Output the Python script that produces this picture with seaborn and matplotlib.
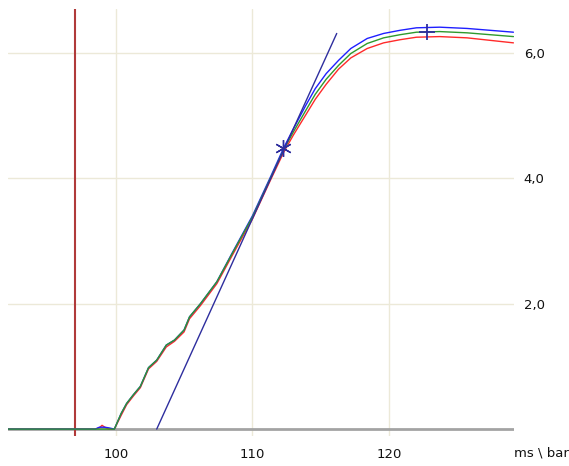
import numpy as np
import pandas as pd
import matplotlib
matplotlib.use("Agg")
import matplotlib.pyplot as plt
import seaborn as sns

# --- data (ms vs bar) ---
time_ms = [92.1, 98.5, 98.8, 99.0, 99.2, 99.5, 99.9, 100.4, 100.8, 101.3, 101.8,
           102.4, 103.0, 103.7, 104.3, 105.0, 105.4, 106.2, 107.4, 108.5, 110.0,
           111.3, 112.3, 113.0, 113.9, 114.6, 115.4, 116.3, 117.2, 118.4, 119.6,
           120.8, 122.0, 123.7, 125.7, 127.4, 129.1]

pressure_blue = [0.0, 0.0, 0.03, 0.03, 0.03, 0.02, 0.0, 0.25, 0.41, 0.55, 0.68,
                 0.98, 1.10, 1.34, 1.42, 1.58, 1.79, 2.00, 2.35, 2.80, 3.40,
                 4.01, 4.49, 4.79, 5.16, 5.43, 5.67, 5.88, 6.07, 6.23, 6.31,
                 6.36, 6.40, 6.41, 6.39, 6.36, 6.33]

pressure_green = [0.0, 0.0, 0.0, 0.0, 0.0, 0.0, 0.0, 0.25, 0.41, 0.55, 0.68,
                  0.98, 1.10, 1.34, 1.42, 1.58, 1.79, 2.00, 2.35, 2.79, 3.38,
                  3.99, 4.46, 4.74, 5.08, 5.34, 5.58, 5.80, 5.99, 6.15, 6.24,
                  6.29, 6.33, 6.34, 6.32, 6.29, 6.26]

pressure_red = [0.0, 0.0, 0.02, 0.06, 0.03, 0.0, 0.0, 0.22, 0.39, 0.53, 0.66,
                0.96, 1.08, 1.31, 1.40, 1.55, 1.76, 1.97, 2.32, 2.76, 3.35,
                3.96, 4.42, 4.69, 5.01, 5.26, 5.50, 5.74, 5.92, 6.07, 6.16,
                6.21, 6.25, 6.26, 6.24, 6.20, 6.16]

tangent_ms = [103.0, 116.17]
tangent_bar = [0.0, 6.31]

star_point = (112.26, 4.48)
plus_point = (122.75, 6.34)
trigger_ms = 97.0

x_ticks = [100, 110, 120]
y_ticks = [2, 4, 6]
y_tick_labels = ["2,0", "4,0", "6,0"]

series_names = ["red", "blue", "green"]
series_colors = {"red": "#ff2a2a", "blue": "#1f1fff", "green": "#2e9a2e"}

df = pd.DataFrame({
    "ms": time_ms * 3,
    "bar": pressure_red + pressure_blue + pressure_green,
    "channel": ["red"] * len(time_ms) + ["blue"] * len(time_ms) + ["green"] * len(time_ms),
})

sns.set_style("white")
plt.rcParams["font.family"] = ["DejaVu Sans"]

fig = plt.figure(figsize=(5.69, 4.66), dpi=100)
ax = fig.add_axes([8 / 569, 30 / 466, (514 - 8) / 569, (436 - 9) / 466])

ax.set_xlim(92.12, 129.14)
ax.set_ylim(-0.11, 6.70)

ax.grid(True, color="#ece9d8", lw=1.0, zorder=0)
ax.set_axisbelow(True)

ax.axhline(0, color="#a3a3a3", lw=2.0, zorder=1)
ax.axvline(trigger_ms, color="#b03a3a", lw=1.5, zorder=2)

sns.lineplot(data=df, x="ms", y="bar", hue="channel", hue_order=series_names,
             palette=series_colors, lw=1.0, legend=False, estimator=None,
             sort=False, ax=ax, zorder=3)

sns.lineplot(x=tangent_ms, y=tangent_bar, color="#2e2e9e", lw=1.0, ax=ax, zorder=4)

ax.plot([star_point[0]], [star_point[1]], marker=(6, 2, 0), ms=12,
        mec="#2e2e9e", mew=1.0, ls="none", zorder=5)
ax.plot([plus_point[0]], [plus_point[1]], marker="+", ms=11,
        mec="#2e2e9e", mew=1.3, ls="none", zorder=5)

ax.set_xticks(x_ticks)
ax.set_xticklabels([str(t) for t in x_ticks])
ax.yaxis.tick_right()
ax.set_yticks(y_ticks)
ax.set_yticklabels(y_tick_labels)
ax.tick_params(axis="x", length=0, pad=9, labelsize=9.5, colors="#111111")
ax.tick_params(axis="y", length=0, pad=7, labelsize=9.5, colors="#111111")

ax.set_ylabel("")
ax.set_xlabel("ms \\ bar", fontsize=9.5, color="#111111", ha="left", va="center")
ax.xaxis.set_label_coords(1.0, -0.04)

for side in ["top", "right", "bottom", "left"]:
    ax.spines[side].set_visible(False)

fig.savefig("out.png", dpi=100)
